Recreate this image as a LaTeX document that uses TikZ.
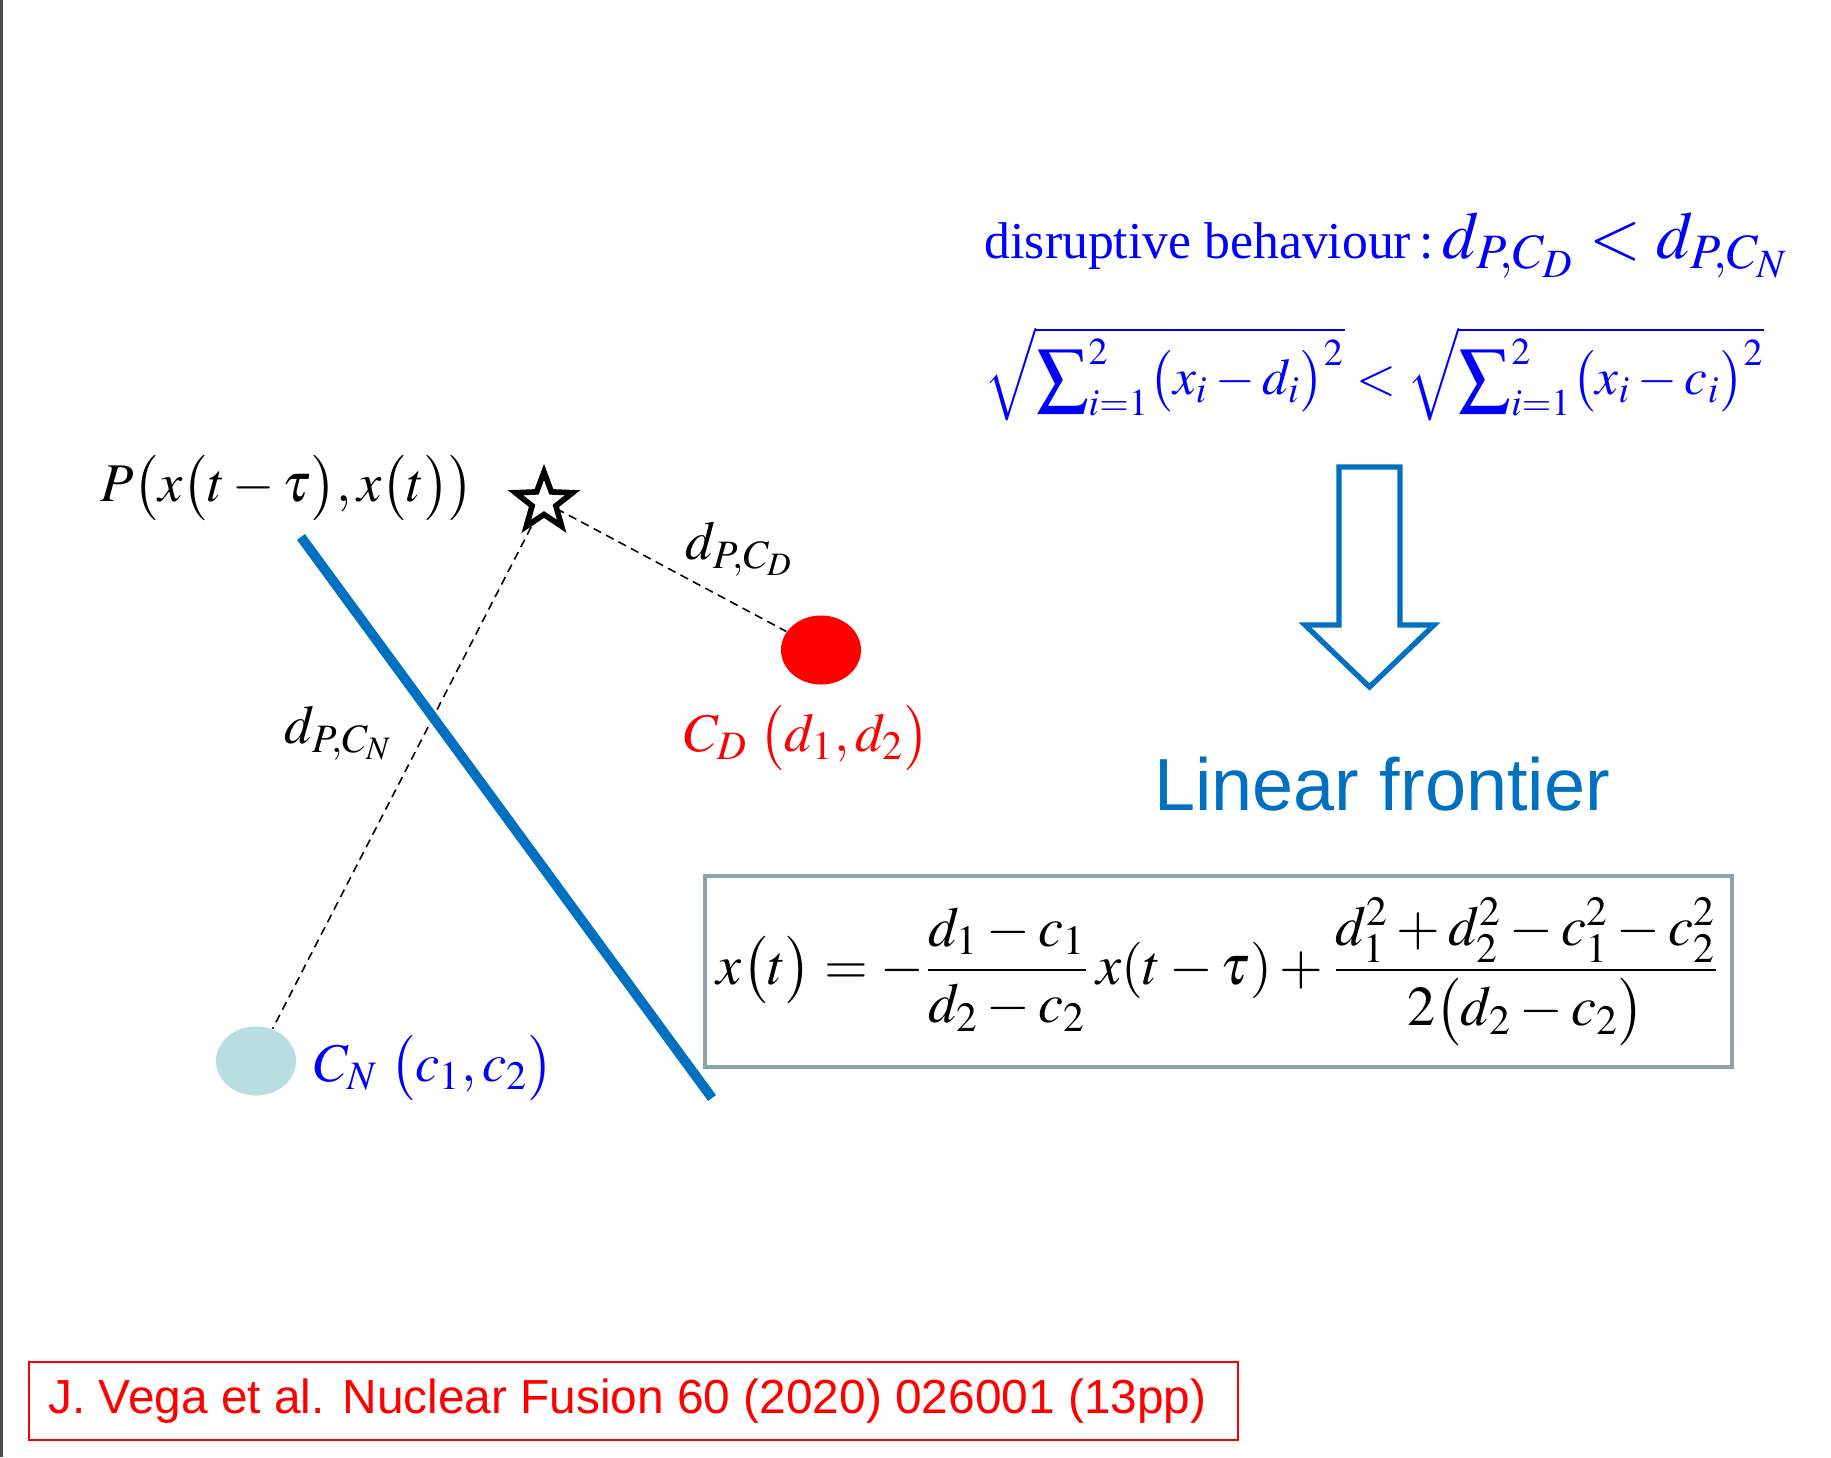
\documentclass[tikz,border=0pt]{standalone}
\usepackage{mathptmx}
\usepackage[no-math]{fontspec}
\setmainfont{Liberation Serif}
\setsansfont{Liberation Sans}
\usetikzlibrary{shapes.geometric}
\definecolor{frontblue}{RGB}{0,112,192}
\definecolor{normcyan}{RGB}{184,222,225}
\definecolor{boxgray}{RGB}{140,163,168}

\begin{document}
\begin{tikzpicture}[
    x=0.01cm, y=-0.01cm,
    centroid/.style={ellipse, minimum width=0.8cm, minimum height=0.69cm, inner sep=0pt},
    dist/.style={dash pattern=on 2.4pt off 1.6pt, line width=0.45pt},
    lbl/.style={inner sep=0pt, font=\fontsize{15.5}{18}\selectfont},
    frontier/.style={frontblue, line width=2.8pt}
]
\useasboundingbox (0,0) rectangle (1831,1457);
\draw[gray!60!black, line width=0.6pt] (1.5,0) -- (1.5,1457);

% centroids and the point P
\node[centroid, fill=red] (cd) at (821,650) {};
\node[centroid, fill=normcyan] (cn) at (256,1061) {};
\coordinate (p) at (544,502);
\draw[dist] (p) -- (cd);
\draw[dist] (p) -- (cn);
\node[star, star points=5, star point ratio=2.4, minimum size=0.6cm, inner sep=0pt,
      draw, fill=white, line width=1.6pt] (pt) at (p) {};

% separating line
\coordinate (f1) at (301,537);
\coordinate (f2) at (712,1098);
\draw[frontier] (f1) -- (f2);

\node[lbl] (plbl) at (287,488) {$P\bigl(x\bigl(t-\tau\bigr),x\bigl(t\bigr)\bigr)$};
\node[lbl] (dcd) at (740,549) {$d_{P,C_D}$};
\node[lbl] (dcn) at (339,733) {$d_{P,C_N}$};
\node[lbl, text=red] (cdlbl) at (807,738) {$C_D\;\bigl(d_1,d_2\bigr)$};
\node[lbl, text=blue] (cnlbl) at (434,1068) {$C_N\;\bigl(c_1,c_2\bigr)$};

% criterion
\node[anchor=west, text=blue, inner sep=0pt] (rule) at (984,245)
  {\fontsize{14.7}{17}\selectfont disruptive behaviour\,:\,\fontsize{19}{22}\selectfont$d_{P,C_D}<d_{P,C_N}$};
\node[anchor=west, text=blue, inner sep=0pt] (eucl) at (984,374)
  {\fontsize{14.6}{18}\selectfont$\sqrt{\displaystyle\sum\nolimits_{i=1}^{2}\bigl(x_i-d_i\bigr)^2}<\sqrt{\displaystyle\sum\nolimits_{i=1}^{2}\bigl(x_i-c_i\bigr)^2}$};

% block arrow
\draw[frontblue, line width=1.5pt] (1339,467) -- (1400,467) -- (1400,625) -- (1434,625)
  -- (1369.5,687) -- (1305,625) -- (1339,625) -- cycle;

\node[text=frontblue, inner sep=0pt, font=\sffamily\fontsize{21}{25}\selectfont] (lin) at (1382,784) {Linear frontier};

\node[draw=boxgray, line width=1.1pt, minimum width=10.27cm, minimum height=1.91cm, inner sep=0pt]
  (front) at (1218.5,971.5)
  {\fontsize{16}{20}\selectfont$\displaystyle x\bigl(t\bigr)=-\frac{d_1-c_1}{d_2-c_2}\,x(t-\tau)+\frac{d_1^2+d_2^2-c_1^2-c_2^2}{2\bigl(d_2-c_2\bigr)}$};

% reference
\node[draw=red, text=red, line width=0.5pt, minimum width=12.09cm, minimum height=0.78cm, inner sep=0pt,
      font=\sffamily\fontsize{13.6}{16}\selectfont] (cite) at (633.5,1401)
  {J. Vega et al. Nuclear Fusion 60 (2020) 026001 (13pp)\hspace*{0.12cm}};
\end{tikzpicture}
\end{document}
